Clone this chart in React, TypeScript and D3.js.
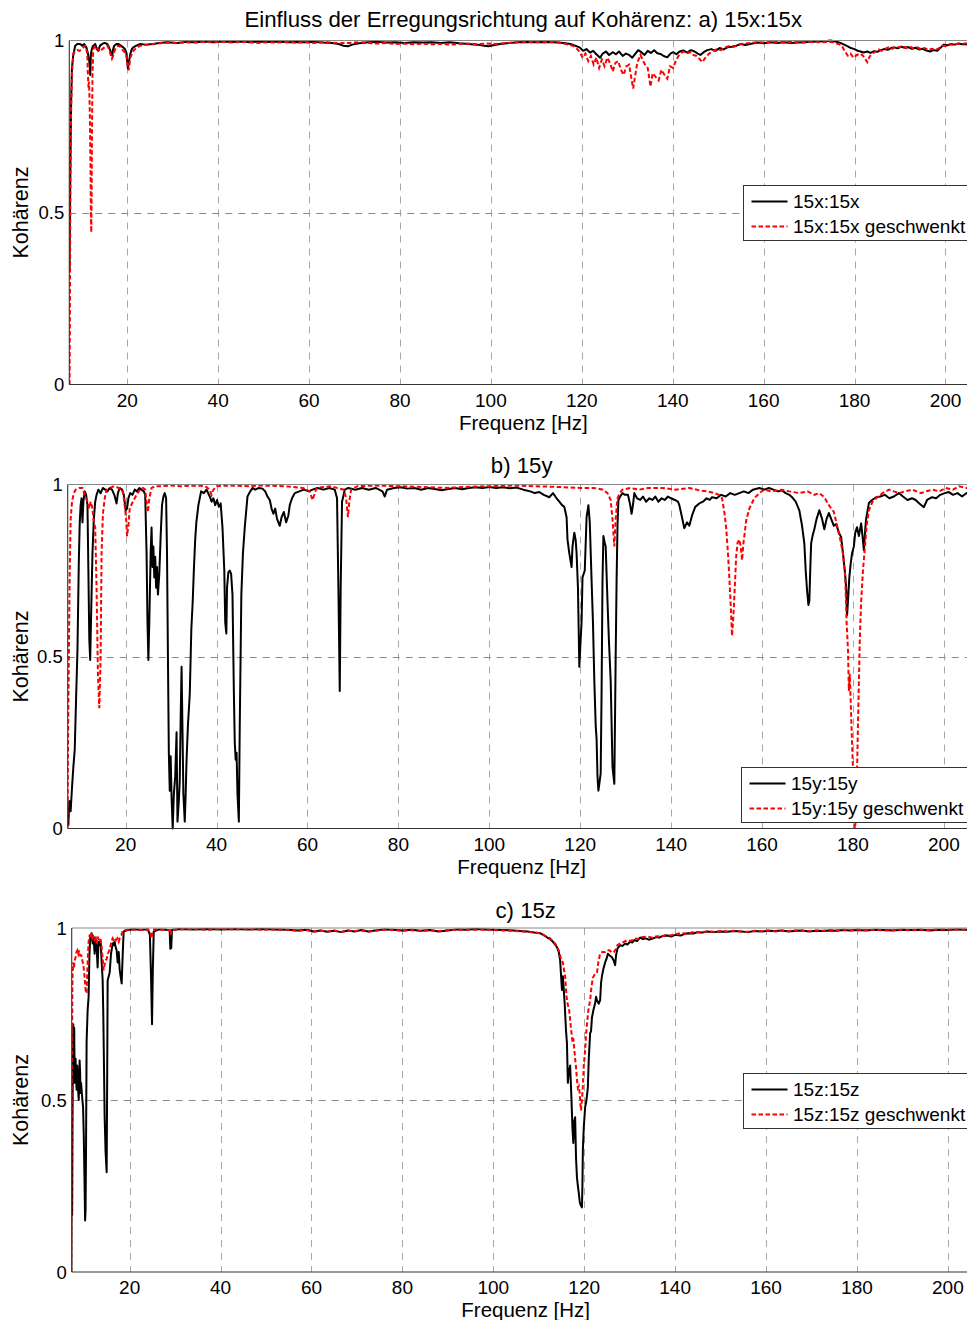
import React from 'react';
import * as d3 from 'd3';

type P = [number, number];

const xTicks = [20, 40, 60, 80, 100, 120, 140, 160, 180, 200];
const yTicks = [0, 0.5, 1];
const xDomain: P = [7.25, 207];
const titles = ['Einfluss der Erregungsrichtung auf Kohärenz: a) 15x:15x', 'b) 15y', 'c) 15z'];
const legendA = ['15x:15x', '15x:15x geschwenkt'];
const legendB = ['15y:15y', '15y:15y geschwenkt'];
const legendC = ['15z:15z', '15z:15z geschwenkt'];
const xLabel = 'Frequenz [Hz]';
const yLabel = 'Kohärenz';

// ---- Panel a: 15x:15x
const a15x: P[] = [[7.3,0.33],[7.4,0.5],[7.5,0.65],[7.65,0.82],[7.83,0.92],[8.1,0.955],[8.55,0.985],[9.0,0.99],[9.65,0.99],[10.1,0.985],[10.5,0.99],[11.0,0.98],[11.3,0.965],[11.5,0.95],[11.7,0.935],[11.86,0.9],[12.0,0.96],[12.2,0.975],[12.5,0.985],[12.96,0.99],[13.3,0.975],[13.62,0.97],[14.0,0.985],[14.5,0.99],[15.0,0.993],[15.6,0.99],[16.0,0.98],[16.3,0.97],[16.7,0.956],[16.9,0.975],[17.14,0.985],[17.6,0.99],[18.0,0.99],[18.6,0.985],[19.1,0.98],[19.5,0.975],[19.8,0.965],[20.15,0.919],[20.4,0.94],[20.66,0.96],[21.0,0.975],[21.32,0.98],[22.0,0.985],[22.86,0.99],[24,0.988],[25.7,0.99],[27,0.993],[28.8,0.995],[31,0.993],[33,0.996],[35,0.995],[37,0.997],[39,0.995],[41,0.997],[43,0.996],[45,0.997],[47,0.995],[49,0.997],[51,0.996],[53,0.997],[55,0.995],[57,0.996],[59,0.995],[61,0.996],[63,0.994],[65,0.993],[66.5,0.99],[67.5,0.985],[68.5,0.983],[69.5,0.988],[71,0.992],[73,0.995],[75,0.996],[77,0.994],[79,0.995],[81,0.993],[83,0.995],[85,0.994],[87,0.995],[89,0.993],[91,0.995],[93,0.992],[95,0.99],[97,0.988],[98.5,0.985],[99.5,0.983],[100.5,0.986],[102,0.99],[104,0.993],[106,0.995],[108,0.996],[110,0.995],[112,0.996],[114,0.995],[116,0.993],[117.5,0.99],[118.5,0.985],[119.5,0.98],[120.3,0.97],[121,0.975],[121.8,0.965],[122.5,0.97],[123.2,0.96],[124,0.95],[124.6,0.962],[125.3,0.968],[126,0.958],[126.8,0.966],[127.5,0.96],[128.2,0.968],[129,0.955],[129.7,0.962],[130.4,0.958],[131.1,0.95],[131.8,0.962],[132.4,0.972],[133.1,0.966],[133.8,0.958],[134.5,0.97],[135.2,0.964],[135.9,0.972],[136.6,0.963],[137.3,0.961],[138,0.955],[138.8,0.951],[139.5,0.962],[140.1,0.966],[140.8,0.96],[141.5,0.968],[142.3,0.971],[143.2,0.965],[144,0.972],[144.8,0.968],[145.5,0.962],[146.1,0.958],[146.8,0.966],[147.6,0.972],[148.5,0.975],[149.4,0.97],[150.3,0.978],[151.2,0.974],[152,0.98],[153,0.982],[154,0.985],[155,0.99],[156,0.987],[157,0.99],[158.6,0.994],[160,0.992],[161.5,0.995],[163,0.993],[164.5,0.995],[166,0.993],[167.5,0.994],[169,0.995],[170.5,0.996],[172,0.997],[173.5,0.998],[174.7,1.0],[175.8,0.997],[176.9,0.993],[177.7,0.988],[178.5,0.983],[179.2,0.978],[180,0.975],[180.7,0.97],[181.3,0.968],[182,0.965],[182.8,0.968],[183.5,0.964],[184.3,0.969],[185,0.967],[185.7,0.972],[186.5,0.975],[187.3,0.973],[188,0.978],[188.7,0.98],[189.5,0.977],[190.3,0.982],[191,0.979],[191.8,0.981],[192.6,0.976],[193.4,0.979],[194.2,0.974],[195,0.976],[195.8,0.971],[196.6,0.968],[197.4,0.972],[198.2,0.97],[199,0.98],[199.6,0.988],[200.4,0.986],[201.2,0.99],[202,0.988],[202.8,0.991],[203.6,0.989],[204.4,0.99],[205.2,0.987],[206,0.99],[207,0.989]];

const a15xG: P[] = [[7.3,0.0],[7.35,0.1],[7.42,0.35],[7.5,0.6],[7.65,0.8],[7.83,0.9],[8.11,0.962],[8.5,0.968],[8.99,0.972],[9.5,0.97],[10.1,0.975],[10.5,0.982],[10.75,0.985],[11.0,0.975],[11.2,0.96],[11.35,0.9],[11.48,0.863],[11.6,0.88],[11.75,0.8],[11.9,0.65],[12.0,0.5],[12.08,0.442],[12.16,0.55],[12.25,0.75],[12.35,0.9],[12.52,0.975],[13.0,0.985],[13.5,0.975],[14.06,0.968],[14.5,0.975],[15.0,0.98],[15.6,0.985],[16.0,0.975],[16.3,0.96],[16.63,0.947],[16.9,0.955],[17.2,0.97],[17.6,0.982],[18.0,0.985],[18.6,0.98],[19.12,0.97],[19.5,0.965],[19.8,0.955],[20.05,0.93],[20.3,0.913],[20.5,0.93],[20.66,0.95],[21.0,0.96],[21.32,0.97],[22.0,0.978],[22.86,0.985],[24,0.987],[25.7,0.99],[27,0.992],[28.8,0.994],[31,0.993],[33,0.995],[35,0.994],[37,0.996],[39,0.995],[41,0.996],[43,0.994],[45,0.996],[47,0.995],[49,0.993],[51,0.995],[53,0.994],[55,0.996],[57,0.994],[59,0.995],[61,0.993],[63,0.995],[65,0.994],[67,0.992],[69,0.993],[71,0.995],[73,0.993],[75,0.991],[77,0.993],[79,0.99],[81,0.991],[83,0.989],[85,0.991],[87,0.989],[89,0.99],[91,0.988],[93,0.99],[95,0.991],[97,0.989],[99,0.991],[101,0.99],[103,0.992],[105,0.994],[107,0.995],[109,0.996],[111,0.995],[113,0.996],[115,0.994],[116.5,0.99],[118,0.985],[119,0.975],[119.6,0.965],[120.2,0.95],[120.8,0.962],[121.4,0.94],[122,0.955],[122.6,0.93],[123.2,0.95],[123.8,0.92],[124.4,0.945],[125,0.925],[125.6,0.95],[126.2,0.935],[126.8,0.91],[127.4,0.935],[128,0.94],[128.6,0.915],[129.2,0.9],[129.8,0.925],[130.4,0.93],[130.9,0.89],[131.3,0.86],[131.7,0.895],[132.2,0.935],[132.9,0.958],[133.5,0.94],[134,0.928],[134.5,0.92],[135.1,0.866],[135.6,0.905],[136.2,0.895],[136.9,0.884],[137.5,0.915],[138.2,0.9],[138.8,0.889],[139.4,0.925],[140.1,0.92],[140.7,0.942],[141.5,0.96],[142.3,0.968],[143,0.962],[143.8,0.966],[144.5,0.958],[145.2,0.955],[145.8,0.948],[146.5,0.937],[147.2,0.95],[148,0.962],[148.9,0.97],[149.8,0.975],[150.6,0.972],[151.5,0.98],[152.5,0.984],[153.5,0.982],[154.9,0.99],[156.5,0.992],[158.6,0.995],[160.5,0.994],[162.5,0.996],[164.5,0.995],[166.5,0.996],[168.5,0.994],[170.5,0.996],[172.5,0.995],[174.5,0.996],[175.4,0.994],[176.4,0.99],[177.2,0.985],[177.8,0.97],[178.5,0.956],[179.1,0.962],[179.8,0.95],[180.5,0.958],[181.3,0.962],[181.9,0.955],[182.4,0.945],[182.8,0.937],[183.3,0.953],[183.9,0.962],[184.6,0.968],[185.3,0.974],[186,0.97],[186.8,0.976],[187.5,0.98],[188.3,0.976],[189,0.983],[189.8,0.98],[190.6,0.984],[191.4,0.978],[192.2,0.982],[193,0.977],[193.8,0.98],[194.6,0.975],[195.4,0.978],[196.2,0.973],[197,0.976],[197.8,0.972],[198.6,0.978],[199.4,0.985],[200.2,0.984],[201,0.989],[202,0.987],[202.8,0.991],[203.6,0.99],[204.5,0.992],[205.5,0.99],[207,0.991]];

// ---- Panel b: 15y:15y
const b15y: P[] = [[7.2,0.04],[7.4,0.01],[7.6,0.08],[7.9,0.05],[8.2,0.12],[8.5,0.18],[8.8,0.23],[9.1,0.38],[9.4,0.52],[9.7,0.78],[9.9,0.89],[10.1,0.94],[10.3,0.96],[10.5,0.89],[10.7,0.95],[11.0,0.98],[11.3,0.97],[11.6,0.94],[11.8,0.75],[12.0,0.55],[12.2,0.49],[12.4,0.62],[12.7,0.8],[13.0,0.9],[13.3,0.95],[13.6,0.97],[14.0,0.985],[14.5,0.975],[15.0,0.99],[15.5,0.985],[16.0,0.98],[16.5,0.99],[17.0,0.985],[17.5,0.97],[18.0,0.945],[18.3,0.975],[18.7,0.99],[19.2,0.985],[19.6,0.97],[20.0,0.925],[20.3,0.93],[20.6,0.96],[21.0,0.975],[21.5,0.97],[22.0,0.985],[22.5,0.98],[23.0,0.99],[23.5,0.985],[24.0,0.98],[24.3,0.97],[24.6,0.8],[24.8,0.6],[25.0,0.49],[25.2,0.6],[25.5,0.8],[25.7,0.875],[25.9,0.76],[26.1,0.82],[26.3,0.73],[26.5,0.79],[26.7,0.7],[26.9,0.76],[27.1,0.68],[27.4,0.74],[27.7,0.85],[28.0,0.94],[28.3,0.965],[28.6,0.975],[28.9,0.96],[29.1,0.8],[29.3,0.5],[29.5,0.22],[29.7,0.11],[29.9,0.21],[30.1,0.09],[30.35,0.0],[30.6,0.1],[30.9,0.15],[31.2,0.28],[31.4,0.02],[31.7,0.08],[31.9,0.14],[32.1,0.32],[32.3,0.47],[32.5,0.29],[32.7,0.1],[33.0,0.02],[33.2,0.1],[33.4,0.2],[33.7,0.3],[34.1,0.39],[34.45,0.58],[34.75,0.66],[35.0,0.75],[35.3,0.84],[35.55,0.89],[36.0,0.94],[36.6,0.98],[37.2,0.975],[37.8,0.985],[38.5,0.965],[38.9,0.95],[39.3,0.96],[39.7,0.94],[40.1,0.955],[40.5,0.935],[40.9,0.945],[41.3,0.875],[41.7,0.75],[41.9,0.6],[42.15,0.567],[42.3,0.7],[42.6,0.745],[42.9,0.75],[43.2,0.74],[43.5,0.68],[43.8,0.4],[44.0,0.25],[44.2,0.2],[44.4,0.22],[44.6,0.1],[44.9,0.02],[45.1,0.3],[45.45,0.68],[45.8,0.8],[46.2,0.875],[46.8,0.965],[47.4,0.98],[47.9,0.99],[48.5,0.985],[49.3,0.99],[50.1,0.988],[50.7,0.98],[51.2,0.965],[51.7,0.955],[52.1,0.93],[52.5,0.915],[52.9,0.93],[53.3,0.9],[53.9,0.88],[54.3,0.905],[54.8,0.92],[55.3,0.89],[55.8,0.91],[56.1,0.94],[56.6,0.96],[57.2,0.975],[58.2,0.98],[59.2,0.985],[60.3,0.98],[61.1,0.985],[62.2,0.99],[63.5,0.985],[64.8,0.99],[66.0,0.985],[66.5,0.96],[66.8,0.7],[67.1,0.4],[67.3,0.7],[67.6,0.95],[68.2,0.985],[69.0,0.99],[70.5,0.985],[72.0,0.99],[73.5,0.985],[75.0,0.99],[76.5,0.98],[77.0,0.965],[77.5,0.985],[79,0.99],[80.5,0.992],[82,0.988],[83.5,0.99],[85,0.985],[86.5,0.99],[88,0.987],[89.5,0.983],[91,0.987],[92.5,0.99],[94,0.986],[95.5,0.99],[97,0.992],[98.5,0.99],[100,0.993],[101.5,0.99],[103,0.992],[104.5,0.989],[106,0.991],[107.5,0.985],[109,0.98],[110,0.975],[111,0.978],[112,0.97],[113.2,0.963],[114,0.975],[114.8,0.96],[115.4,0.95],[116,0.94],[116.5,0.935],[117.0,0.905],[117.2,0.84],[117.6,0.8],[118.1,0.76],[118.3,0.82],[118.7,0.86],[119.0,0.838],[119.2,0.8],[119.5,0.7],[119.8,0.47],[120.1,0.55],[120.3,0.6],[120.5,0.73],[121.0,0.75],[121.4,0.905],[121.8,0.94],[122.1,0.89],[122.5,0.72],[122.8,0.6],[123.1,0.43],[123.4,0.3],[123.6,0.26],[123.8,0.15],[124.0,0.11],[124.3,0.14],[124.5,0.16],[124.7,0.4],[124.9,0.72],[125.1,0.85],[125.4,0.83],[125.6,0.82],[126.0,0.66],[126.3,0.55],[126.7,0.43],[127.1,0.18],[127.5,0.13],[127.8,0.5],[128.0,0.72],[128.2,0.88],[128.4,0.955],[128.8,0.965],[129.3,0.975],[129.8,0.97],[130.5,0.97],[131.0,0.94],[131.3,0.915],[131.6,0.94],[131.9,0.975],[132.5,0.96],[133.2,0.955],[133.8,0.965],[134.5,0.95],[135.2,0.96],[135.9,0.955],[136.5,0.965],[137.2,0.95],[137.9,0.96],[138.6,0.955],[139.3,0.965],[140.0,0.96],[140.8,0.955],[141.5,0.95],[141.8,0.94],[142.3,0.91],[142.9,0.873],[143.5,0.89],[144.0,0.88],[144.6,0.91],[145.3,0.935],[146.2,0.945],[147.0,0.95],[147.8,0.96],[148.5,0.955],[149.0,0.963],[150,0.96],[151,0.97],[152,0.965],[153,0.975],[154,0.97],[155,0.975],[156,0.98],[157,0.975],[158,0.985],[159.4,0.99],[160.5,0.985],[161.5,0.99],[162.5,0.985],[163.5,0.98],[164.4,0.983],[165.2,0.975],[166,0.97],[166.6,0.963],[167.4,0.95],[168.2,0.925],[168.8,0.88],[169.3,0.829],[169.6,0.75],[169.9,0.692],[170.2,0.65],[170.4,0.66],[170.6,0.75],[170.8,0.829],[171.1,0.85],[171.5,0.87],[172.0,0.9],[172.6,0.925],[173.2,0.9],[173.7,0.87],[174.2,0.9],[174.7,0.917],[175.2,0.9],[175.8,0.88],[176.3,0.885],[176.9,0.86],[177.4,0.847],[177.8,0.8],[178.2,0.75],[178.5,0.7],[178.7,0.62],[178.9,0.66],[179.2,0.73],[179.5,0.77],[179.8,0.8],[180.2,0.82],[180.5,0.86],[180.9,0.876],[181.3,0.85],[181.8,0.887],[182.1,0.85],[182.4,0.809],[182.7,0.87],[182.9,0.9],[183.5,0.946],[184.2,0.955],[185.1,0.963],[186,0.965],[187,0.97],[188,0.96],[189,0.965],[190.1,0.975],[191,0.965],[192,0.955],[193,0.96],[193.8,0.955],[194.6,0.945],[195.6,0.934],[196.3,0.955],[197.4,0.963],[198.3,0.96],[199.2,0.97],[200.2,0.975],[201.1,0.978],[202,0.97],[203,0.975],[204,0.965],[205,0.975],[206,0.97],[207,0.975]];

const b15yG: P[] = [[7.2,0.0],[7.35,0.3],[7.5,0.5],[7.7,0.75],[7.9,0.9],[8.2,0.95],[8.6,0.975],[9.0,0.985],[9.8,0.99],[10.5,0.99],[11.0,0.97],[11.5,0.955],[12.0,0.93],[12.3,0.95],[12.7,0.93],[13.0,0.89],[13.3,0.875],[13.6,0.7],[13.9,0.45],[14.2,0.35],[14.5,0.5],[14.7,0.8],[15.0,0.915],[15.4,0.96],[15.8,0.985],[16.5,0.99],[17.5,0.995],[18.5,0.99],[19.3,0.985],[19.7,0.95],[20.1,0.9],[20.3,0.85],[20.6,0.88],[20.9,0.93],[21.4,0.945],[22.0,0.96],[22.6,0.975],[23.2,0.985],[23.8,0.99],[24.3,0.985],[24.6,0.95],[24.9,0.92],[25.2,0.96],[25.7,0.99],[26.5,0.995],[28,0.995],[30,0.997],[32,0.995],[35,0.997],[37.5,0.995],[38.5,0.985],[38.9,0.97],[39.3,0.985],[40,0.995],[43,0.997],[47,0.995],[50,0.997],[55,0.995],[59,0.99],[60.5,0.98],[61.1,0.955],[61.5,0.97],[62,0.99],[65,0.995],[68,0.985],[68.5,0.96],[68.9,0.905],[69.2,0.95],[69.6,0.985],[71,0.995],[75,0.997],[80,0.995],[85,0.993],[90,0.99],[95,0.993],[100,0.995],[105,0.997],[110,0.995],[115,0.993],[120,0.99],[123,0.99],[125,0.985],[126,0.975],[126.7,0.955],[127.1,0.9],[127.5,0.82],[127.8,0.9],[128.2,0.96],[128.7,0.975],[129.3,0.985],[131,0.99],[133,0.985],[135,0.99],[138,0.99],[141,0.985],[144,0.99],[146.2,0.983],[148,0.98],[149.5,0.975],[150.5,0.97],[151.2,0.96],[151.7,0.92],[152.1,0.875],[152.5,0.8],[152.8,0.73],[153.1,0.65],[153.4,0.56],[153.7,0.62],[154.0,0.7],[154.3,0.79],[154.6,0.83],[155.0,0.84],[155.3,0.82],[155.6,0.78],[155.9,0.83],[156.2,0.86],[156.5,0.895],[157.2,0.93],[158.3,0.96],[159.4,0.975],[160.5,0.985],[162,0.98],[164.4,0.985],[166,0.98],[168.2,0.975],[170,0.98],[171.5,0.97],[172.6,0.975],[173.7,0.963],[174.7,0.94],[175.8,0.92],[176.5,0.88],[177.2,0.84],[177.8,0.8],[178.3,0.73],[178.6,0.6],[178.9,0.52],[179.1,0.4],[179.3,0.45],[179.5,0.37],[179.8,0.25],[180.0,0.17],[180.2,0.05],[180.4,0.0],[180.6,0.02],[180.8,0.1],[181.1,0.3],[181.5,0.55],[181.8,0.66],[182.2,0.75],[182.7,0.83],[183.0,0.88],[183.5,0.925],[184.3,0.95],[185.1,0.96],[186.5,0.975],[188,0.985],[189,0.98],[190.1,0.975],[191.5,0.98],[193,0.985],[195,0.975],[196,0.98],[197.5,0.985],[199,0.98],[200.4,0.99],[202,0.985],[203.3,0.995],[205,0.99],[207,0.995]];

// ---- Panel c: 15z:15z
const c15z: P[] = [[7.16,0.0],[7.22,0.25],[7.28,0.45],[7.35,0.165],[7.42,0.4],[7.5,0.6],[7.6,0.72],[7.7,0.66],[7.8,0.71],[7.9,0.55],[8.0,0.6],[8.1,0.62],[8.2,0.56],[8.33,0.53],[8.45,0.6],[8.55,0.58],[8.7,0.52],[8.8,0.5],[8.99,0.615],[9.1,0.58],[9.2,0.52],[9.3,0.55],[9.43,0.53],[9.6,0.5],[9.75,0.48],[9.9,0.4],[10.05,0.28],[10.2,0.15],[10.3,0.18],[10.4,0.35],[10.53,0.67],[10.75,0.76],[10.97,0.8],[11.15,0.92],[11.35,0.98],[11.5,0.97],[11.63,0.985],[11.85,0.955],[12.05,0.975],[12.29,0.925],[12.5,0.97],[12.73,0.945],[12.95,0.885],[13.15,0.96],[13.4,0.95],[13.6,0.965],[13.84,0.9],[14.06,0.848],[14.2,0.75],[14.35,0.6],[14.5,0.45],[14.7,0.35],[14.94,0.29],[15.05,0.55],[15.16,0.848],[15.4,0.86],[15.6,0.87],[15.9,0.925],[16.26,0.956],[16.5,0.95],[16.7,0.96],[16.9,0.945],[17.14,0.935],[17.36,0.9],[17.6,0.93],[17.8,0.88],[18.0,0.86],[18.24,0.839],[18.46,0.92],[18.68,0.99],[19.5,0.994],[21,0.996],[22.5,0.995],[24,0.996],[24.45,0.98],[24.7,0.86],[24.92,0.72],[25.1,0.88],[25.3,0.99],[26.5,0.996],[28,0.995],[28.8,0.993],[28.95,0.94],[29.15,0.942],[29.3,0.994],[31,0.997],[34,0.996],[37,0.997],[40,0.996],[43,0.997],[46,0.996],[49,0.997],[52,0.996],[55,0.995],[57,0.993],[59,0.995],[60.5,0.99],[62,0.993],[63.5,0.989],[65,0.992],[66.5,0.988],[68,0.993],[69.5,0.99],[71,0.994],[72.5,0.99],[74,0.993],[76,0.996],[78,0.995],[80,0.993],[82,0.995],[84,0.992],[86,0.994],[88,0.99],[90,0.993],[92,0.996],[94,0.995],[96,0.997],[98,0.996],[100,0.995],[102,0.994],[104.4,0.993],[106,0.991],[107.5,0.99],[109,0.987],[110.3,0.985],[111,0.98],[111.8,0.973],[112.5,0.968],[113.1,0.96],[113.6,0.952],[114.0,0.944],[114.4,0.93],[114.7,0.906],[115.0,0.84],[115.1,0.82],[115.3,0.86],[115.7,0.78],[116.0,0.7],[116.2,0.665],[116.4,0.55],[116.6,0.58],[116.9,0.6],[117.2,0.5],[117.4,0.42],[117.6,0.375],[117.8,0.44],[118.0,0.45],[118.2,0.33],[118.4,0.275],[118.6,0.25],[118.8,0.23],[119.0,0.205],[119.2,0.195],[119.5,0.188],[119.6,0.25],[119.7,0.354],[119.9,0.42],[120.2,0.479],[120.5,0.5],[120.8,0.537],[121.0,0.62],[121.3,0.694],[121.5,0.7],[121.7,0.74],[122.0,0.76],[122.4,0.781],[122.6,0.8],[122.8,0.79],[123.2,0.78],[123.5,0.79],[123.7,0.84],[123.9,0.86],[124.2,0.88],[124.6,0.9],[124.9,0.91],[125.2,0.925],[125.6,0.92],[126.1,0.915],[126.5,0.905],[126.8,0.892],[127.0,0.92],[127.3,0.94],[127.6,0.945],[127.9,0.95],[128.4,0.948],[129,0.955],[129.5,0.952],[130.1,0.96],[130.6,0.958],[131,0.965],[131.6,0.962],[132.3,0.972],[132.9,0.968],[133.5,0.97],[134.2,0.966],[135.2,0.97],[135.9,0.974],[136.5,0.972],[137.3,0.977],[138.3,0.978],[139.1,0.975],[140,0.98],[141.2,0.978],[142.1,0.983],[143,0.985],[144,0.984],[144.9,0.988],[146,0.987],[147,0.99],[148.5,0.988],[150,0.99],[151.5,0.989],[153,0.991],[154.5,0.99],[156,0.988],[157.5,0.991],[159,0.99],[160.5,0.992],[162,0.991],[163.5,0.993],[165,0.99],[166.5,0.992],[168,0.993],[169.5,0.99],[171,0.992],[172.5,0.991],[174,0.993],[175.5,0.992],[177,0.994],[178.5,0.993],[180,0.994],[182,0.993],[184,0.995],[186,0.994],[188,0.993],[190,0.995],[192,0.994],[194,0.995],[196,0.993],[198,0.995],[200,0.994],[202,0.996],[204,0.995],[207,0.996]];

const c15zG: P[] = [[7.16,0.0],[7.22,0.3],[7.3,0.6],[7.4,0.82],[7.45,0.87],[7.6,0.9],[7.75,0.885],[7.9,0.905],[8.1,0.915],[8.3,0.93],[8.5,0.935],[8.7,0.925],[8.9,0.935],[9.1,0.92],[9.4,0.92],[9.6,0.905],[9.8,0.895],[10.0,0.87],[10.1,0.855],[10.3,0.82],[10.53,0.81],[10.7,0.88],[10.85,0.93],[10.97,0.96],[11.2,0.98],[11.4,0.97],[11.6,0.985],[11.8,0.97],[12.0,0.975],[12.3,0.965],[12.5,0.97],[12.7,0.955],[12.95,0.975],[13.2,0.965],[13.4,0.97],[13.6,0.96],[13.8,0.95],[14.0,0.92],[14.15,0.9],[14.28,0.877],[14.5,0.895],[14.7,0.905],[14.94,0.91],[15.2,0.925],[15.5,0.935],[15.8,0.95],[16.0,0.96],[16.26,0.97],[16.5,0.965],[16.7,0.97],[17.0,0.965],[17.3,0.97],[17.6,0.96],[17.8,0.97],[18.2,0.98],[18.5,0.993],[19.5,0.995],[21,0.996],[22.5,0.994],[24,0.996],[24.5,0.99],[24.8,0.97],[25.1,0.99],[25.4,0.996],[27,0.995],[28.8,0.994],[29.0,0.98],[29.3,0.995],[31,0.996],[34,0.997],[37,0.995],[40,0.997],[43,0.996],[46,0.997],[49,0.995],[52,0.996],[55,0.994],[57,0.992],[59,0.994],[60.5,0.989],[62,0.992],[63.5,0.99],[65,0.993],[66.5,0.989],[68,0.992],[69.5,0.991],[71,0.993],[72.5,0.989],[74,0.992],[76,0.995],[78,0.994],[80,0.992],[82,0.994],[84,0.991],[86,0.993],[88,0.991],[90,0.994],[92,0.995],[94,0.996],[96,0.995],[98,0.996],[100,0.994],[102,0.993],[104.4,0.992],[106,0.99],[107.5,0.989],[109,0.987],[110.3,0.985],[111,0.98],[111.8,0.975],[112.5,0.97],[113.1,0.96],[113.6,0.955],[114.0,0.945],[114.4,0.935],[114.7,0.92],[115.0,0.905],[115.3,0.9],[115.6,0.875],[115.8,0.86],[116.0,0.82],[116.2,0.79],[116.5,0.77],[116.7,0.76],[117.0,0.72],[117.4,0.67],[117.6,0.68],[117.8,0.65],[118.0,0.62],[118.2,0.595],[118.4,0.56],[118.6,0.535],[118.8,0.54],[119.0,0.52],[119.15,0.49],[119.3,0.47],[119.5,0.5],[119.7,0.54],[119.9,0.6],[120.2,0.645],[120.4,0.69],[120.6,0.72],[120.9,0.76],[121.3,0.79],[121.6,0.83],[121.9,0.855],[122.3,0.865],[122.8,0.87],[123.1,0.9],[123.5,0.926],[124,0.93],[124.6,0.93],[125,0.935],[125.5,0.935],[126,0.93],[126.4,0.928],[126.8,0.935],[127.3,0.95],[127.9,0.955],[128.5,0.958],[129.5,0.965],[130.2,0.962],[131,0.97],[131.8,0.968],[132.6,0.973],[133.9,0.975],[135,0.972],[136,0.976],[137,0.975],[138,0.98],[139,0.978],[140,0.982],[141.2,0.985],[142.5,0.983],[144,0.988],[145.5,0.987],[147,0.99],[148.5,0.989],[150,0.991],[151.5,0.99],[153,0.992],[154.5,0.99],[156,0.989],[157.5,0.992],[159,0.991],[160.5,0.993],[162,0.99],[163.5,0.992],[165,0.991],[166.5,0.993],[168,0.992],[169.5,0.991],[171,0.993],[172.5,0.992],[174,0.994],[175.5,0.993],[177,0.995],[178.5,0.993],[180,0.995],[182,0.994],[184,0.995],[186,0.993],[188,0.994],[190,0.995],[192,0.993],[194,0.995],[196,0.994],[198,0.996],[200,0.995],[202,0.996],[204,0.995],[207,0.996]];

const FONT = '"Liberation Sans", Arial, Helvetica, sans-serif';
const PLOT_W = 908;

interface PanelProps {
  id: string;
  left: number;
  top: number;
  bottom: number;
  title: string;
  titleY: number;
  black: P[];
  red: P[];
  legend: string[];
  legendX: number;
  legendY: number;
}

function Panel(p: PanelProps) {
  const x = d3.scaleLinear().domain(xDomain).range([p.left, p.left + PLOT_W]);
  const y = d3.scaleLinear().domain([0, 1]).range([p.bottom, p.top]);
  const line = d3.line<P>().x(d => x(d[0])).y(d => y(d[1]));
  const right = p.left + PLOT_W;
  const cx = p.left + PLOT_W / 2;
  const cy = (p.top + p.bottom) / 2;
  return (
    <g>
      <defs>
        <clipPath id={'clip-' + p.id}>
          <rect x={p.left} y={p.top - 2} width={PLOT_W} height={p.bottom - p.top + 4} />
        </clipPath>
      </defs>
      {/* grid */}
      {xTicks.map(t => (
        <line key={'gx' + t} x1={Math.round(x(t)) + 0.5} x2={Math.round(x(t)) + 0.5} y1={p.top} y2={p.bottom}
          stroke="#a8a8a8" strokeWidth={1} strokeDasharray="7,6" />
      ))}
      {yTicks.filter(t => t > 0 && t < 1).map(t => (
        <line key={'gy' + t} x1={p.left} x2={right} y1={Math.round(y(t)) + 0.5} y2={Math.round(y(t)) + 0.5}
          stroke="#8a8a8a" strokeWidth={1} strokeDasharray="7,6" />
      ))}
      {/* data */}
      <g clipPath={`url(#clip-${p.id})`}>
        <path d={line(p.black) || ''} fill="none" stroke="#000" strokeWidth={2} strokeLinejoin="round" />
        <path d={line(p.red) || ''} fill="none" stroke="#ff0000" strokeWidth={2} strokeDasharray="4.5,2.5" />
      </g>
      {/* axes box */}
      <line x1={p.left} x2={right} y1={p.top} y2={p.top} stroke="#888" strokeWidth={1} />
      <line x1={p.left} x2={p.left} y1={p.top} y2={p.bottom} stroke="#333" strokeWidth={1.1} />
      <line x1={p.left} x2={right} y1={p.bottom} y2={p.bottom} stroke="#333" strokeWidth={1.1} />
      {/* tick labels */}
      {xTicks.map(t => (
        <text key={'tx' + t} x={x(t)} y={p.bottom + 22} textAnchor="middle" fontFamily={FONT} fontSize={19} fill="#000">{t}</text>
      ))}
      {yTicks.map(t => (
        <text key={'ty' + t} x={p.left - 5} y={y(t) + 6.5} textAnchor="end" fontFamily={FONT} fontSize={18.5} fill="#000">{t}</text>
      ))}
      {/* labels */}
      <text x={cx} y={p.titleY} textAnchor="middle" fontFamily={FONT} fontSize={22.2} fill="#000">{p.title}</text>
      <text x={cx} y={p.bottom + 45} textAnchor="middle" fontFamily={FONT} fontSize={20.5} fill="#000">{xLabel}</text>
      <text transform={`translate(28,${cy}) rotate(-90)`} textAnchor="middle" fontFamily={FONT} fontSize={21.5} fill="#000">{yLabel}</text>
      {/* legend */}
      <g transform={`translate(${p.legendX},${p.legendY})`}>
        <rect x={0} y={0} width={240} height={55} fill="#fff" stroke="#333" strokeWidth={1} />
        <line x1={8} x2={44} y1={16} y2={16} stroke="#000" strokeWidth={2} />
        <line x1={8} x2={44} y1={41} y2={41} stroke="#ff0000" strokeWidth={2} strokeDasharray="4.5,2.5" />
        <text x={49.5} y={22.5} fontFamily={FONT} fontSize={19} fill="#000">{p.legend[0]}</text>
        <text x={49.5} y={47.5} fontFamily={FONT} fontSize={19} fill="#000">{p.legend[1]}</text>
      </g>
    </g>
  );
}

export default function App() {
  return (
    <svg width={967} height={1320} style={{ position: 'absolute', left: 0, top: 0, background: '#fff' }}
      xmlns="http://www.w3.org/2000/svg">
      <rect x={0} y={0} width={967} height={1320} fill="#fff" />
      <Panel id="a" left={69.3} top={40.5} bottom={384.5} title={titles[0]} titleY={27} black={a15x} red={a15xG}
        legend={legendA} legendX={743.5} legendY={185.5} />
      <Panel id="b" left={67.7} top={484.5} bottom={828.5} title={titles[1]} titleY={473} black={b15y} red={b15yG}
        legend={legendB} legendX={741.5} legendY={767.5} />
      <Panel id="c" left={71.7} top={928} bottom={1272} title={titles[2]} titleY={918} black={c15z} red={c15zG}
        legend={legendC} legendX={743.5} legendY={1073.5} />
    </svg>
  );
}
